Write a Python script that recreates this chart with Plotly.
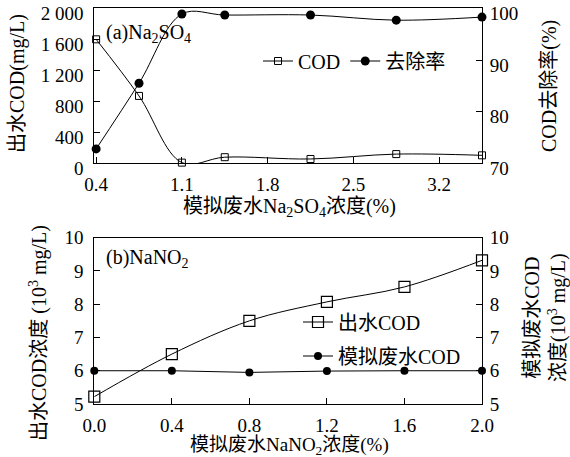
import plotly.graph_objects as go

# ---- data (a) Na2SO4 ----
a_x = [0.4, 0.75, 1.1, 1.45, 2.15, 2.85, 3.55]
a_cod = [1600, 870, 10, 80, 57, 120, 104]
a_rate = [72.8, 85.5, 98.9, 98.7, 98.7, 97.7, 98.3]
a_xticks = [0.4, 1.1, 1.8, 2.5, 3.2]
a_yticks = [0, 400, 800, 1200, 1600, 2000]
a_yticktext = ["0", "400", "800", "1 200", "1 600", "2 000"]
a_y2ticks = [70, 80, 90, 100]

# ---- data (b) NaNO2 ----
b_x = [0.0, 0.4, 0.8, 1.2, 1.6, 2.0]
b_out = [5.22, 6.5, 7.5, 8.07, 8.52, 9.32]
b_sim = [6.0, 6.0, 5.95, 5.99, 6.0, 6.0]
b_xticks = [0.0, 0.4, 0.8, 1.2, 1.6, 2.0]
b_xticktext = ["0.0", "0.4", "0.8", "1.2", "1.6", "2.0"]
b_yticks = [5, 6, 7, 8, 9, 10]

W, H = 570, 457
FONT = "Liberation Serif, Noto Sans CJK SC"
FS = 19
FT = 20

def px(x):
    return x / W

def py(y):
    return 1 - y / H

fig = go.Figure()

fig.add_trace(go.Scatter(x=a_x, y=a_cod, name="COD", mode="lines+markers",
                         line=dict(color="black", width=1, shape="spline"),
                         marker=dict(symbol="square-open", size=7, color="black", line=dict(width=1)),
                         xaxis="x", yaxis="y", cliponaxis=False, legend="legend"))
fig.add_trace(go.Scatter(x=a_x, y=a_rate, name="去除率", mode="lines+markers",
                         line=dict(color="black", width=1, shape="spline"),
                         marker=dict(symbol="circle", size=9, color="black"),
                         xaxis="x", yaxis="y2", cliponaxis=False, legend="legend"))
fig.add_trace(go.Scatter(x=b_x, y=b_out, name="出水COD", mode="lines+markers",
                         line=dict(color="black", width=1, shape="spline"),
                         marker=dict(symbol="square-open", size=11, color="black", line=dict(width=1.2)),
                         xaxis="x2", yaxis="y3", cliponaxis=False, legend="legend2", legendgroup="g1"))
fig.add_trace(go.Scatter(x=b_x, y=b_sim, name="模拟废水COD", mode="lines+markers",
                         line=dict(color="black", width=1),
                         marker=dict(symbol="circle", size=8, color="black"),
                         xaxis="x2", yaxis="y4", cliponaxis=False, legend="legend2", legendgroup="g2"))

ax_common = dict(showgrid=False, zeroline=False, showline=True, linecolor="black", linewidth=1,
                 automargin=False, ticklabeloverflow="allow",
                 ticks="inside", ticklen=6, tickcolor="black", tickfont=dict(family=FONT, size=FS, color="black"))

dom_x = [px(94.3), px(482)]
dom_a = [py(163.4), py(8.3)]
dom_b = [py(404), py(237.7)]

fig.update_layout(
    width=W, height=H, margin=dict(l=0, r=0, t=0, b=0, autoexpand=False),
    paper_bgcolor="white", plot_bgcolor="white", hovermode=False,
    font=dict(family=FONT, size=FS, color="black"),
    xaxis=dict(domain=dom_x, anchor="y", range=[0.385, 3.55], tickvals=a_xticks, mirror=True,
               ticklabelstandoff=4, **ax_common),
    yaxis=dict(domain=dom_a, anchor="x", range=[0, 2000], tickvals=a_yticks, ticktext=a_yticktext,
               ticklabelstandoff=6, ticklabelshift=5, **ax_common),
    yaxis2=dict(domain=dom_a, anchor="x", overlaying="y", side="right", range=[70, 100], tickvals=a_y2ticks,
                ticklabelstandoff=3, ticklabelshift=5, **ax_common),
    xaxis2=dict(domain=dom_x, anchor="y3", range=[0, 2.0], tickvals=b_xticks, ticktext=b_xticktext, mirror=True,
                ticklabelstandoff=4, **ax_common),
    yaxis3=dict(domain=dom_b, anchor="x2", range=[5, 10], tickvals=b_yticks, ticklabelstandoff=6, **ax_common),
    yaxis4=dict(domain=dom_b, anchor="x2", overlaying="y3", side="right", range=[5, 10], tickvals=b_yticks,
                ticklabelstandoff=3, **ax_common),
    legend=dict(orientation="h", x=px(258), y=py(61), xanchor="left", yanchor="middle",
                bgcolor="rgba(0,0,0,0)", font=dict(family=FONT, size=FT), itemwidth=30),
    legend2=dict(orientation="v", x=px(298), y=py(339), xanchor="left", yanchor="middle",
                 bgcolor="rgba(0,0,0,0)", font=dict(family=FONT, size=FT), tracegroupgap=5, itemwidth=30),
)

def ann(text, x, y, angle=0, xanchor="center", size=FT):
    fig.add_annotation(text=text, x=px(x), y=py(y), xref="paper", yref="paper", showarrow=False,
                       textangle=angle, xanchor=xanchor, yanchor="middle",
                       font=dict(family=FONT, size=size, color="black"))

ann("(a)Na<sub>2</sub>SO<sub>4</sub>", 104, 33, xanchor="left")
ann("(b)NaNO<sub>2</sub>", 104, 258, xanchor="left")
ann("出水COD(mg/L)", 17, 84, angle=-90)
ann("COD去除率(%)", 549, 86, angle=-90)
ann("模拟废水Na<sub>2</sub>SO<sub>4</sub>浓度(%)", 289, 207)
ann("出水COD浓度 (10<sup>3</sup> mg/L)", 38, 333, angle=-90)
ann("模拟废水COD<br>浓度(10<sup>3</sup> mg/L)", 545, 318, angle=-90)
ann("模拟废水NaNO<sub>2</sub>浓度(%)", 289, 446, size=19)

# remove the default page margin so the 570x457 figure fills the window exactly
fig.write_html("out.html", config={"displayModeBar": False, "staticPlot": True},
               post_script="document.body.style.margin='0';document.body.style.overflow='hidden';")
